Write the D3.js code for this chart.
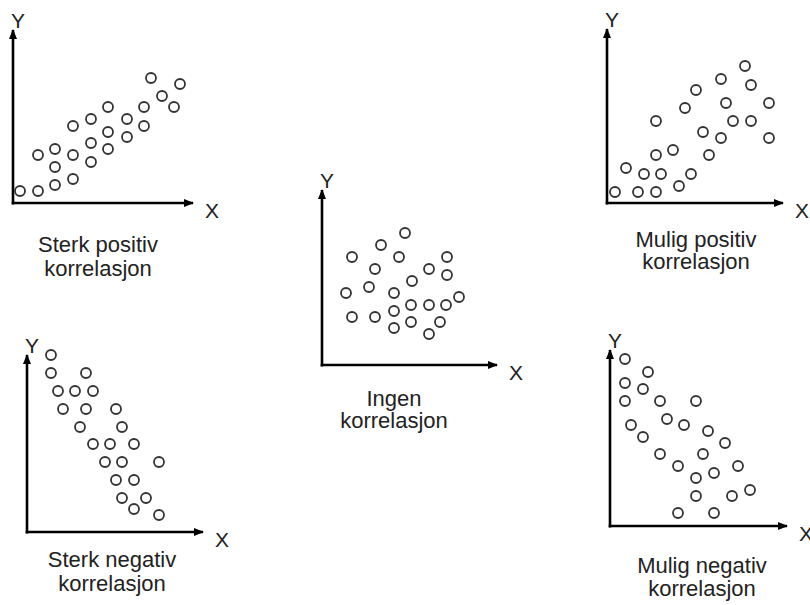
<!DOCTYPE html>
<html>
<head>
<meta charset="utf-8">
<script src="https://cdn.jsdelivr.net/npm/d3@7"></script>
<style>
  body { margin: 0; background: #fff; }
  svg text { font-family: "Liberation Sans", Arial, sans-serif; fill: #222; }
</style>
</head>
<body>
<div id="chart"></div>
<script>

// point data, [x, y] in axis units (0 = origin)
var sterkPositiv = [
  [7,12],[25,12],[42,18],[42,36],[42,54],[25,48],[60,24],[60,48],[60,77],
  [78,41],[78,60],[78,84],[95,54],[95,71],[95,96],[114,66],[114,84],
  [131,77],[131,96],[138,125],[149,107],[161,96],[167,119]
];
var sterkNegativ = [
  [24,177],[24,159],[59,159],[31,141],[48,141],[66,141],[36,123],[59,123],
  [89,123],[53,105],[95,105],[66,88],[83,88],[107,88],[78,70],[95,70],
  [132,70],[89,52],[107,52],[95,34],[119,34],[107,23],[132,17]
];
var ingen = [
  [83,132],[59,120],[30,108],[77,108],[125,108],[53,96],[107,96],[125,90],
  [90,84],[24,72],[47,78],[72,72],[137,68],[89,60],[107,60],[124,60],
  [72,54],[30,48],[53,48],[89,43],[118,43],[72,37],[107,31]
];
var muligPositiv = [
  [8,11],[31,11],[49,11],[19,35],[37,29],[54,29],[72,17],[49,48],[66,53],
  [84,29],[49,82],[78,95],[89,113],[96,71],[102,48],[114,124],[119,100],
  [114,65],[126,82],[138,137],[144,118],[144,82],[162,100],[162,65]
];
var muligNegativ = [
  [15,167],[38,154],[15,143],[33,137],[15,125],[50,125],[86,125],[57,107],
  [74,101],[21,101],[33,89],[98,95],[115,83],[50,72],[93,72],[68,60],
  [128,60],[104,53],[86,48],[86,30],[122,30],[140,36],[68,13],[104,13]
];

var titles = [
  ["Sterk positiv", "korrelasjon"],
  ["Sterk negativ", "korrelasjon"],
  ["Ingen", "korrelasjon"],
  ["Mulig positiv", "korrelasjon"],
  ["Mulig negativ", "korrelasjon"]
];

// layout: origin, axis lengths, title position
var panels = [
  { data: sterkPositiv, ox: 13,  oy: 203, xLen: 180, yLen: 173, tx: 98,  ty: [252, 276] },
  { data: sterkNegativ, ox: 27,  oy: 532, xLen: 176, yLen: 177, tx: 112, ty: [567, 591] },
  { data: ingen,        ox: 322, oy: 365, xLen: 175, yLen: 175, tx: 394, ty: [406, 428] },
  { data: muligPositiv, ox: 607, oy: 203, xLen: 176, yLen: 174, tx: 696, ty: [247, 269] },
  { data: muligNegativ, ox: 610, oy: 526, xLen: 177, yLen: 176, tx: 702, ty: [573, 596] }
];

var svg = d3.select("#chart").append("svg")
  .attr("width", 810)
  .attr("height", 605);

svg.append("defs").append("marker")
  .attr("id", "arrow")
  .attr("markerUnits", "userSpaceOnUse")
  .attr("viewBox", "0 -5 10 10")
  .attr("refX", 9)
  .attr("refY", 0)
  .attr("markerWidth", 10)
  .attr("markerHeight", 10)
  .attr("orient", "auto")
  .append("path")
  .attr("d", "M0,-4L10,0L0,4Z")
  .attr("fill", "#000");

panels.forEach(function(p, i) {
  var x = d3.scaleLinear().domain([0, 176]).range([p.ox, p.ox + 176]);
  var y = d3.scaleLinear().domain([0, 176]).range([p.oy, p.oy - 176]);

  var g = svg.append("g").attr("class", "panel");

  // axes
  g.append("line")
    .attr("x1", x(0)).attr("y1", y(0) + 1.5)
    .attr("x2", x(0)).attr("y2", p.oy - p.yLen)
    .attr("stroke", "#000").attr("stroke-width", 2.6)
    .attr("marker-end", "url(#arrow)");
  g.append("line")
    .attr("x1", x(0) - 1.3).attr("y1", y(0))
    .attr("x2", p.ox + p.xLen).attr("y2", y(0))
    .attr("stroke", "#000").attr("stroke-width", 2.6)
    .attr("marker-end", "url(#arrow)");

  g.append("text")
    .attr("x", p.ox + p.xLen + 12)
    .attr("y", p.oy + 15)
    .attr("font-size", "21px")
    .text("X");
  g.append("text")
    .attr("x", p.ox + 5)
    .attr("y", p.oy - p.yLen - 2)
    .attr("text-anchor", "middle")
    .attr("font-size", "21px")
    .text("Y");

  g.selectAll("circle")
    .data(p.data)
    .enter().append("circle")
    .attr("cx", function(d) { return x(d[0]); })
    .attr("cy", function(d) { return y(d[1]); })
    .attr("r", 5)
    .attr("fill", "none")
    .attr("stroke", "#333")
    .attr("stroke-width", 1.8);

  g.selectAll(".title")
    .data(titles[i])
    .enter().append("text")
    .attr("class", "title")
    .attr("x", p.tx)
    .attr("y", function(d, j) { return p.ty[j]; })
    .attr("text-anchor", "middle")
    .attr("font-size", "22px")
    .text(function(d) { return d; });
});

</script>
</body>
</html>
